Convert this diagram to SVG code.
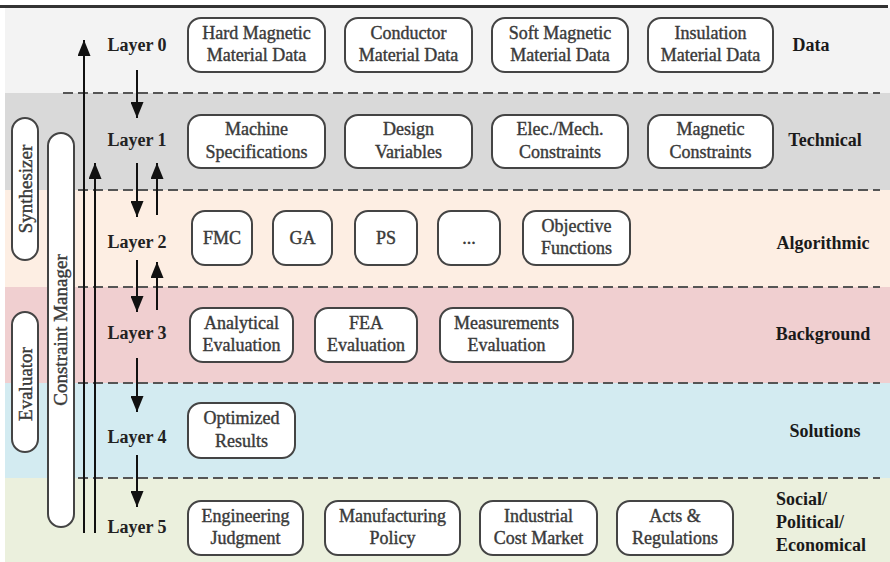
<svg xmlns="http://www.w3.org/2000/svg" width="890" height="562" viewBox="0 0 890 562">
<style>
.node rect{fill:#fff;stroke:#444;stroke-width:2}
.nt{font-family:"Liberation Serif",serif;font-size:18px;fill:#3a3a3a;stroke:#3a3a3a;stroke-width:0.4;text-anchor:middle}
.lay{font-family:"Liberation Serif",serif;font-size:18px;font-weight:bold;fill:#222;text-anchor:middle}
.cat{font-family:"Liberation Serif",serif;font-size:18px;font-weight:bold;fill:#1a1a1a;text-anchor:middle}
.pill{fill:#fff;stroke:#444;stroke-width:2}
.pt{font-family:"Liberation Serif",serif;font-size:19px;fill:#3a3a3a;stroke:#3a3a3a;stroke-width:0.4;text-anchor:middle}
.dash{stroke:#555;stroke-width:2;stroke-dasharray:10 5;fill:none}
.ar{stroke:#111;stroke-width:2;fill:none;marker-end:url(#ah)}
</style>
<defs>
<marker id="ah" markerUnits="userSpaceOnUse" markerWidth="17" markerHeight="13" refX="16" refY="6.5" orient="auto">
<path d="M0,0 L16,6.5 L0,13 z" fill="#111"/>
</marker>
</defs>
<g id="background">
<rect x="0" y="0" width="890" height="562" fill="#fff"/>
<rect x="5" y="8" width="885" height="85" fill="#f3f3f3"/>
<rect x="5" y="93" width="885" height="97" fill="#d9d9d9"/>
<rect x="5" y="190" width="885" height="97" fill="#fdeee3"/>
<rect x="5" y="287" width="885" height="96" fill="#f0cfd0"/>
<rect x="5" y="383" width="885" height="95" fill="#d3ebf1"/>
<rect x="5" y="478" width="885" height="84" fill="#ebf0dd"/>
<line x1="0" y1="6.5" x2="888" y2="6.5" stroke="#333" stroke-width="3"/>
<line class="dash" x1="63" y1="93" x2="880" y2="93"/>
<line class="dash" x1="63" y1="190" x2="880" y2="190"/>
<line class="dash" x1="63" y1="287" x2="880" y2="287"/>
<line class="dash" x1="63" y1="383" x2="880" y2="383"/>
<line class="dash" x1="63" y1="478" x2="880" y2="478"/>
</g>
<g id="synthesizer">
<rect class="pill" x="12" y="118" width="26" height="142" rx="13"/>
<text class="pt" transform="translate(31.5,189) rotate(-90)">Synthesizer</text>
</g>
<g id="evaluator">
<rect class="pill" x="12" y="312" width="26" height="140" rx="13"/>
<text class="pt" transform="translate(31.5,384) rotate(-90)">Evaluator</text>
</g>
<g id="constraint-manager">
<rect class="pill" x="48" y="133" width="26" height="394" rx="13"/>
<text class="pt" transform="translate(67,330) rotate(-90)">Constraint Manager</text>
</g>
<g id="layer-labels">
<text class="lay" x="137" y="51">Layer 0</text>
<text class="lay" x="137" y="146">Layer 1</text>
<text class="lay" x="137" y="248">Layer 2</text>
<text class="lay" x="137" y="339">Layer 3</text>
<text class="lay" x="137" y="443">Layer 4</text>
<text class="lay" x="137" y="533">Layer 5</text>
</g>
<g id="categories">
<text class="cat" x="811" y="51">Data</text>
<text class="cat" x="825" y="146">Technical</text>
<text class="cat" x="823" y="249">Algorithmic</text>
<text class="cat" x="823" y="340">Background</text>
<text class="cat" x="825" y="437">Solutions</text>
<text class="cat" x="776" y="505" style="text-anchor:start">Social/</text>
<text class="cat" x="776" y="528" style="text-anchor:start">Political/</text>
<text class="cat" x="776" y="551" style="text-anchor:start">Economical</text>
</g>
<g id="n-hard" class="node"><rect x="188" y="18" width="137" height="54" rx="13"/><text class="nt" x="256.5" y="39">Hard Magnetic</text><text class="nt" x="256.5" y="61">Material Data</text></g>
<g id="n-cond" class="node"><rect x="345" y="18" width="127" height="54" rx="13"/><text class="nt" x="408.5" y="39">Conductor</text><text class="nt" x="408.5" y="61">Material Data</text></g>
<g id="n-soft" class="node"><rect x="492" y="18" width="136" height="54" rx="13"/><text class="nt" x="560" y="39">Soft Magnetic</text><text class="nt" x="560" y="61">Material Data</text></g>
<g id="n-ins" class="node"><rect x="648" y="18" width="125" height="54" rx="13"/><text class="nt" x="710.5" y="39">Insulation</text><text class="nt" x="710.5" y="61">Material Data</text></g>
<g id="n-spec" class="node"><rect x="188" y="115" width="137" height="53" rx="13"/><text class="nt" x="256.5" y="135">Machine</text><text class="nt" x="256.5" y="158">Specifications</text></g>
<g id="n-dv" class="node"><rect x="345" y="115" width="127" height="53" rx="13"/><text class="nt" x="408.5" y="135">Design</text><text class="nt" x="408.5" y="158">Variables</text></g>
<g id="n-em" class="node"><rect x="492" y="115" width="136" height="53" rx="13"/><text class="nt" x="560" y="135">Elec./Mech.</text><text class="nt" x="560" y="158">Constraints</text></g>
<g id="n-mc" class="node"><rect x="648" y="115" width="125" height="53" rx="13"/><text class="nt" x="710.5" y="135">Magnetic</text><text class="nt" x="710.5" y="158">Constraints</text></g>
<g id="n-fmc" class="node"><rect x="192" y="211" width="60" height="54" rx="13"/><text class="nt" x="222" y="244">FMC</text></g>
<g id="n-ga" class="node"><rect x="273" y="211" width="59" height="54" rx="13"/><text class="nt" x="302.5" y="244">GA</text></g>
<g id="n-ps" class="node"><rect x="355" y="211" width="62" height="54" rx="13"/><text class="nt" x="386" y="244">PS</text></g>
<g id="n-dots" class="node"><rect x="438" y="211" width="62" height="54" rx="13"/><text class="nt" x="469" y="244">...</text></g>
<g id="n-obj" class="node"><rect x="523" y="211" width="107" height="54" rx="13"/><text class="nt" x="576.5" y="232">Objective</text><text class="nt" x="576.5" y="254">Functions</text></g>
<g id="n-ana" class="node"><rect x="190" y="308" width="103" height="54" rx="13"/><text class="nt" x="241.5" y="329">Analytical</text><text class="nt" x="241.5" y="351">Evaluation</text></g>
<g id="n-fea" class="node"><rect x="315" y="308" width="102" height="54" rx="13"/><text class="nt" x="366" y="329">FEA</text><text class="nt" x="366" y="351">Evaluation</text></g>
<g id="n-meas" class="node"><rect x="440" y="308" width="133" height="54" rx="13"/><text class="nt" x="506.5" y="329">Measurements</text><text class="nt" x="506.5" y="351">Evaluation</text></g>
<g id="n-opt" class="node"><rect x="188" y="403" width="107" height="55" rx="13"/><text class="nt" x="241.5" y="424">Optimized</text><text class="nt" x="241.5" y="447">Results</text></g>
<g id="n-eng" class="node"><rect x="188" y="501" width="115" height="54" rx="13"/><text class="nt" x="245.5" y="522">Engineering</text><text class="nt" x="245.5" y="544">Judgment</text></g>
<g id="n-man" class="node"><rect x="325" y="501" width="135" height="54" rx="13"/><text class="nt" x="392.5" y="522">Manufacturing</text><text class="nt" x="392.5" y="544">Policy</text></g>
<g id="n-ind" class="node"><rect x="480" y="501" width="117" height="54" rx="13"/><text class="nt" x="538.5" y="522">Industrial</text><text class="nt" x="538.5" y="544">Cost Market</text></g>
<g id="n-acts" class="node"><rect x="617" y="501" width="116" height="54" rx="13"/><text class="nt" x="675" y="522">Acts &amp;</text><text class="nt" x="675" y="544">Regulations</text></g>
<g id="connectors">
<line class="ar" x1="84" y1="533" x2="84" y2="40"/>
<line class="ar" x1="95" y1="533" x2="95" y2="163"/>
<line class="ar" x1="137" y1="70" x2="137" y2="118"/>
<line class="ar" x1="137" y1="163" x2="137" y2="217"/>
<line class="ar" x1="157" y1="215" x2="157" y2="163"/>
<line class="ar" x1="137" y1="260" x2="137" y2="312"/>
<line class="ar" x1="157" y1="310" x2="157" y2="262"/>
<line class="ar" x1="137" y1="358" x2="137" y2="412"/>
<line class="ar" x1="137" y1="455" x2="137" y2="507"/>
</g>
</svg>
